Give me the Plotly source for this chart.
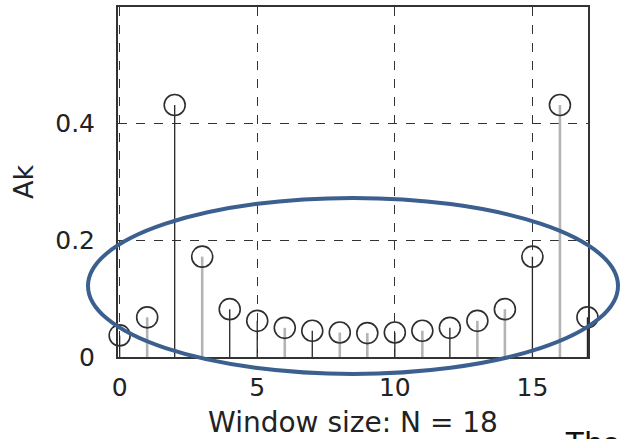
import plotly.graph_objects as go

# Ak magnitude per coefficient index k
k_values = list(range(18))
ak_values = [0.037, 0.068, 0.432, 0.172, 0.082, 0.062, 0.050, 0.045, 0.042,
             0.041, 0.042, 0.045, 0.050, 0.062, 0.082, 0.172, 0.432, 0.068]
# stem shade group for each k ("d" = dark, "l" = light)
stem_group = ["d", "l", "d", "l", "d", "d", "l", "d", "l",
              "l", "d", "l", "d", "l", "l", "d", "l", "d"]

x_ticks = [0, 5, 10, 15]
y_ticks = [0, 0.2, 0.4]
y_tick_text = ["0", "0.2", "0.4"]

W, H = 620, 439
L, R, T, B = 118, 32, 5, 82


def stem_xy(group):
    xs, ys = [], []
    for k, a, g in zip(k_values, ak_values, stem_group):
        if g == group:
            xs += [k, k, None]
            ys += [0, a, None]
    return xs, ys


fig = go.Figure()

lx, ly = stem_xy("l")
fig.add_trace(go.Scatter(x=lx, y=ly, mode="lines",
                         line=dict(color="#b4b4b4", width=2.6),
                         hoverinfo="skip", showlegend=False))
dx, dy = stem_xy("d")
fig.add_trace(go.Scatter(x=dx, y=dy, mode="lines",
                         line=dict(color="#262626", width=1.3),
                         hoverinfo="skip", showlegend=False))
fig.add_trace(go.Scatter(x=k_values, y=ak_values, mode="markers",
                         marker=dict(symbol="circle-open", size=21,
                                     color="#2e2e2e", line=dict(width=1.6)),
                         cliponaxis=False, showlegend=False))

font_family = "DejaVu Sans, sans-serif"

fig.update_xaxes(range=[-0.06, 17.02], tickvals=x_ticks,
                 showgrid=True, gridcolor="#333333", griddash="dash", gridwidth=1.4,
                 zeroline=False, showline=True, linecolor="#333333", linewidth=2,
                 mirror=True, ticks="inside", ticklen=5, tickcolor="#333333",
                 ticklabelstandoff=7,
                 tickfont=dict(family=font_family, size=25, color="#222222"),
                 title=dict(text="Window size: N = 18", standoff=12,
                            font=dict(family=font_family, size=28, color="#222222")))
fig.update_yaxes(range=[0, 0.6], tickvals=y_ticks, ticktext=y_tick_text,
                 showgrid=True, gridcolor="#333333", griddash="dash", gridwidth=1.4,
                 zeroline=False, showline=True, linecolor="#333333", linewidth=2,
                 mirror=True, ticks="inside", ticklen=5, tickcolor="#333333",
                 ticklabelstandoff=16,
                 tickfont=dict(family=font_family, size=25, color="#222222"),
                 title=dict(text="Ak", standoff=14,
                            font=dict(family=font_family, size=27, color="#222222")))


def px_x(p):
    return (p - L) / (W - L - R)


def px_y(p):
    return (H - B - p) / (H - T - B)


# highlight ellipse around the small coefficients
fig.add_shape(type="circle", xref="paper", yref="paper",
              x0=px_x(88), x1=px_x(618), y0=px_y(374), y1=px_y(197),
              line=dict(color="#3b5f8e", width=4), fillcolor="rgba(0,0,0,0)")

fig.add_annotation(text="The", xref="paper", yref="paper",
                   x=px_x(563), y=px_y(423), xanchor="left", yanchor="top",
                   showarrow=False,
                   font=dict(family="Liberation Sans, Arial, sans-serif",
                             size=32, color="#111111"))

fig.update_layout(width=W, height=H,
                  margin=dict(l=L, r=R, t=T, b=B),
                  paper_bgcolor="white", plot_bgcolor="white")

fig.write_html("out.html")
